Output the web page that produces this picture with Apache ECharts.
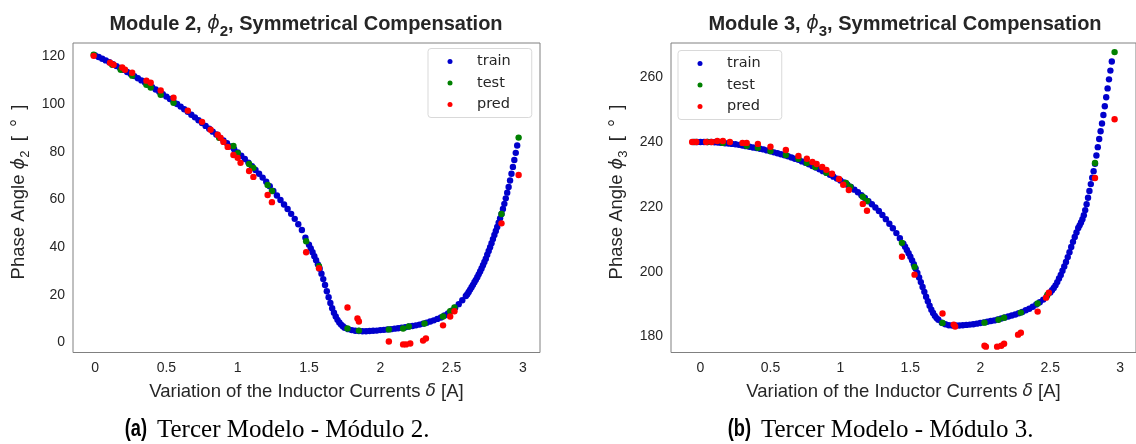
<!DOCTYPE html>
<html><head><meta charset="utf-8">
<script src="https://cdn.jsdelivr.net/npm/echarts@6/dist/echarts.min.js"></script>
<style>html,body{margin:0;padding:0;background:#fff}#c{width:1136px;height:444px}</style>
</head><body><div id="c"></div>
<script>
// ---------- tick labels ----------
const xTicks = [0, 0.5, 1, 1.5, 2, 2.5, 3];
const leftYTicks = [0, 20, 40, 60, 80, 100, 120];
const rightYTicks = [180, 200, 220, 240, 260];
const legendNames = ['train', 'test', 'pred'];

// ---------- Module 2 (left) ----------
const m2TrainX = [0,0.025,0.05,0.075,0.1,0.125,0.15,0.175,0.2,0.225,0.25,0.275,0.3,0.325,0.35,0.375,0.4,0.425,0.45,0.475,0.5,0.525,0.55,0.575,0.6,0.625,0.65,0.675,0.7,0.725,0.75,0.775,0.8,0.825,0.85,0.875,0.9,0.925,0.95,0.975,1,1.025,1.05,1.075,1.1,1.125,1.15,1.175,1.2,1.225,1.25,1.275,1.3,1.325,1.35,1.375,1.4,1.425,1.45,1.475,
1.5,1.5125,1.525,1.5375,1.55,1.5625,1.575,1.5875,1.6,1.6125,1.625,1.6375,1.65,1.6625,1.675,1.6875,1.7,1.7125,1.725,1.7375,1.75,
1.775,1.8,1.825,1.85,1.875,1.9,1.925,1.95,1.975,2,2.025,2.05,2.075,2.1,2.125,2.15,2.175,2.2,2.225,2.25,2.275,2.3,2.325,2.35,2.375,2.4,2.425,2.45,2.475,2.5,2.525,2.55,2.575,2.6,
2.61,2.62,2.63,2.64,2.65,2.66,2.67,2.68,2.69,2.7,2.71,2.72,2.73,2.74,2.75,2.76,2.77,2.78,2.79,2.8,2.81,2.82,2.83,2.84,2.85,2.86,2.87,2.88,2.89,2.9,2.91,2.92,2.93,2.94,2.95,2.96];
const m2TrainY = [120.5,119.8,119.1,118.4,117.6,116.8,116.0,115.2,114.4,113.5,112.7,111.8,110.9,110.0,109.1,108.2,107.2,106.2,105.2,104.2,103.2,102.2,101.1,100.1,99.0,97.9,96.8,95.6,94.5,93.3,92.1,90.9,89.7,88.5,87.3,86.0,84.8,83.6,82.3,81.1,79.8,78.4,77.0,75.5,74.0,72.4,70.8,69.2,67.5,65.6,63.6,61.7,59.8,57.9,56.0,54.0,51.9,49.6,47.2,44.0,
41.0,39.5,37.9,36.2,34.5,32.8,31.0,28.9,26.6,24.1,21.5,19.0,16.6,14.4,12.5,10.9,9.5,8.4,7.5,6.8,6.2,
5.6,5.2,4.9,4.8,4.7,4.7,4.8,4.9,5.0,5.2,5.3,5.5,5.6,5.8,6.0,6.2,6.4,6.7,6.9,7.2,7.5,7.9,8.3,8.8,9.3,9.9,10.5,11.3,12.2,13.3,14.6,16.1,17.7,19.5,
20.3,21.2,22.2,23.2,24.2,25.3,26.3,27.4,28.6,29.8,31.1,32.4,33.8,35.2,36.8,38.4,40.0,41.7,43.4,45.1,46.8,48.5,50.3,52.1,53.9,56.0,58.2,60.5,62.9,65.3,68.0,70.8,73.7,76.6,79.6,82.7];
const m2TestX = [-0.01,0.12,0.18,0.26,0.36,0.39,0.46,0.55,0.87,0.97,1.0,1.08,1.11,1.21,1.24,1.48,1.57,1.77,1.85,2.06,2.16,2.2,2.31,2.44,2.49,2.52,2.85,2.97];
const m2TestY = [120.8,116.6,114.5,112.0,108.2,107.0,104.0,100.6,85.9,82.5,79.5,74.9,73.3,66.1,63.6,42.5,32.0,5.9,5.0,5.5,5.9,6.7,8.0,10.9,13.1,14.7,53.9,86.0];
const m2PredX = [-0.01,0.105,0.13,0.19,0.21,0.26,0.36,0.39,0.46,0.55,0.65,0.75,0.81,0.86,0.88,0.90,0.93,0.97,1.0,1.02,1.08,1.11,1.21,1.24,1.48,1.57,1.77,1.84,1.85,2.06,2.16,2.18,2.21,2.30,2.32,2.44,2.49,2.52,2.85,2.97];
const m2PredY = [120.3,117.4,116.6,115.4,114.5,113.2,109.9,109.0,105.8,102.7,97.3,92.6,89.3,87.2,85.9,84.2,82.1,78.7,77.5,75.4,72.0,69.5,61.9,58.9,37.9,31.2,14.7,10.1,8.8,0.4,-0.8,-0.8,-0.4,0.8,1.7,7.2,10.9,13.1,50.0,70.3];

// ---------- Module 3 (right) ----------
const m3TrainX = [-0.05,-0.025,0,0.025,0.05,0.075,0.1,0.125,0.15,0.175,0.2,0.225,0.25,0.275,0.3,0.325,0.35,0.375,0.4,0.425,0.45,0.475,0.5,0.525,0.55,0.575,0.6,0.625,0.65,0.675,0.7,0.725,0.75,0.775,0.8,0.825,0.85,0.875,0.9,0.925,0.95,0.975,1,1.025,1.05,1.075,1.1,1.125,1.15,1.175,1.2,1.225,1.25,1.275,1.3,1.325,1.35,1.375,1.4,1.425,1.45,
1.4625,1.475,1.4875,1.5,1.5125,1.525,1.5375,1.55,1.5625,1.575,1.5875,1.6,1.6125,1.625,1.6375,1.65,1.6625,1.675,1.6875,1.7,
1.725,1.75,1.775,1.8,1.825,1.85,1.875,1.9,1.925,1.95,1.975,2,2.025,2.05,2.075,2.1,2.125,2.15,2.175,2.2,2.225,2.25,2.275,2.3,2.325,2.35,2.375,2.4,2.425,2.45,2.475,
2.5,2.5125,2.525,2.5375,2.55,2.5625,2.575,2.5875,2.6,2.6125,2.625,2.6375,2.65,2.6625,2.675,2.6875,2.7,
2.71,2.72,2.73,2.74,2.75,2.76,2.77,2.78,2.79,2.8,2.81,2.82,2.83,2.84,2.85,2.86,2.87,2.88,2.89,2.9,2.91,2.92,2.93,2.94];
const m3TrainY = [240.0,240.0,240.0,240.0,240.0,240.0,239.9,239.8,239.7,239.6,239.5,239.4,239.3,239.1,238.9,238.7,238.5,238.3,238.1,237.9,237.7,237.4,237.1,236.8,236.5,236.2,235.9,235.6,235.2,234.8,234.5,234.0,233.6,233.1,232.6,232.1,231.6,231.0,230.5,229.9,229.3,228.7,228.1,227.5,226.8,226.1,225.3,224.5,223.6,222.7,221.7,220.8,219.8,218.7,217.5,216.2,214.8,213.4,211.9,210.3,208.6,
207.7,206.7,205.7,204.6,203.5,202.3,201.0,199.6,198.2,196.8,195.3,193.8,192.3,190.9,189.5,188.3,187.3,186.4,185.7,185.2,
184.3,183.8,183.5,183.4,183.4,183.4,183.5,183.6,183.7,183.8,184.0,184.2,184.4,184.6,184.8,185.0,185.3,185.6,185.9,186.2,186.5,186.8,187.2,187.6,188.1,188.6,189.2,189.9,190.6,191.4,192.4,
193.6,194.3,195.0,195.8,196.8,197.9,199.0,200.3,201.6,203.0,204.5,206.0,207.6,209.2,210.7,212.1,213.5,
214.3,215.2,216.2,217.4,219.0,220.8,222.8,224.9,227.0,229.0,231.0,233.3,235.8,238.4,240.9,243.3,245.7,248.3,251.0,253.8,256.5,259.3,262.0,264.8];
const m3TestX = [-0.04,0.05,0.16,0.33,0.41,0.50,0.61,0.70,0.76,0.82,0.90,1.04,1.07,1.16,1.19,1.44,1.53,1.73,2.03,2.13,2.17,2.29,2.41,2.48,2.82,2.96];
const m3TestY = [240.0,240.0,239.7,238.8,238.2,237.2,236.0,234.8,233.5,232.3,230.5,227.4,226.2,223.1,221.8,208.9,201.5,184.2,184.3,185.2,185.8,187.4,190.2,192.9,233.5,267.7];
const m3PredX = [-0.06,-0.03,0.04,0.08,0.12,0.16,0.21,0.30,0.33,0.41,0.50,0.61,0.70,0.76,0.80,0.83,0.87,0.90,0.94,0.99,1.02,1.06,1.16,1.19,1.44,1.53,1.73,1.81,1.82,2.03,2.04,2.12,2.15,2.17,2.27,2.29,2.41,2.47,2.49,2.82,2.96];
const m3PredY = [240.0,240.0,240.0,240.0,240.3,240.3,240.0,239.7,239.7,239.4,238.5,237.5,235.7,234.8,233.8,233.2,232.3,231.4,230.2,228.6,226.8,225.2,220.9,218.8,204.6,199.1,187.1,183.7,183.1,177.2,176.9,176.9,177.2,177.8,180.6,181.2,187.7,192.0,193.5,228.9,247.0];

// ---------- build ----------
const zip = (xs, ys) => xs.map((x, i) => [x, ys[i]]);
const COLORS = {train: '#0000cc', test: '#008000', pred: '#ff0000'};
const TXT = '#262626';
const SANS = 'Liberation Sans, Arial, sans-serif';

function scatter(name, xs, ys, idx, z) {
  return {type: 'scatter', name, xAxisIndex: idx, yAxisIndex: idx, data: zip(xs, ys),
    symbol: 'circle', symbolSize: 6.4, itemStyle: {color: COLORS[name], opacity: 1}, z, silent: true};
}
function xAxisCfg(idx, min, max) {
  return {gridIndex: idx, type: 'value', min, max,
    axisLine: {show: false}, axisTick: {show: false}, splitLine: {show: false},
    axisLabel: {customValues: xTicks, formatter: v => String(v), margin: 9, color: TXT, fontSize: 14, fontFamily: SANS},
    name: 'Variation of the Inductor Currents {i|δ} [A]', nameLocation: 'middle', nameGap: 30,
    nameTextStyle: {color: TXT, fontSize: 18.5, fontFamily: SANS,
      rich: {i: {fontStyle: 'italic', fontFamily: 'DejaVu Sans', fontSize: 17, color: TXT}}}};
}
function yAxisCfg(idx, min, max, ticks) {
  return {gridIndex: idx, type: 'value', min, max,
    axisLine: {show: false}, axisTick: {show: false}, splitLine: {show: false},
    axisLabel: {customValues: ticks, margin: 8, color: TXT, fontSize: 14, fontFamily: SANS}};
}
function legendCfg(left, top) {
  return {left, top, orient: 'vertical', data: legendNames, icon: 'circle', itemWidth: 5, itemHeight: 5,
    itemGap: 5.5, padding: [5, 21, 5, 19.5], backgroundColor: '#fff', borderColor: '#d9d9d9', borderWidth: 1,
    borderRadius: 3, selectedMode: false,
    formatter: n => '{t|' + n + '}',
    textStyle: {fontFamily: 'DejaVu Sans', fontSize: 14.5, color: TXT, lineHeight: 16,
      rich: {t: {fontFamily: 'DejaVu Sans', fontSize: 14.5, color: TXT, lineHeight: 16, padding: [0, 0, 0, 19.5]}}}};
}
function titleText(x, mod) {
  return {type: 'text', x, y: 24, z: 100, style: {
    text: '{b|Module ' + mod + ', }{p|ϕ}{s|' + mod + '}{b|, Symmetrical Compensation}',
    align: 'center', verticalAlign: 'middle', textAlign: 'center', textVerticalAlign: 'middle',
    rich: {
      b: {fontFamily: SANS, fontWeight: 'bold', fontSize: 20, lineHeight: 30, fill: TXT},
      p: {fontFamily: 'DejaVu Sans', fontStyle: 'italic', fontSize: 19, lineHeight: 30, fill: TXT},
      s: {fontFamily: SANS, fontWeight: 'bold', fontSize: 15, lineHeight: 15, padding: [16, 0, 0, 0], fill: TXT}
    }}};
}
function yTitle(x, mod) {
  return {type: 'text', x, y: 192, rotation: Math.PI / 2, z: 100, style: {
    text: '{n|Phase Angle }{p|ϕ}{s|' + mod + '}{n|\u2002[\u2002}{d|°}{n|\u2002]}',
    align: 'center', verticalAlign: 'middle', textAlign: 'center', textVerticalAlign: 'middle',
    rich: {
      n: {fontFamily: SANS, fontSize: 18.5, lineHeight: 24, fill: TXT},
      d: {fontFamily: SANS, fontSize: 20, lineHeight: 24, fill: TXT},
      p: {fontFamily: 'DejaVu Sans', fontStyle: 'italic', fontSize: 17.5, lineHeight: 24, fill: TXT},
      s: {fontFamily: SANS, fontSize: 13, lineHeight: 13, padding: [12, 0, 0, 0], fill: TXT}
    }}};
}
function caption(xr, tag, text) {
  return [
    {type: 'text', x: xr, y: 429, scaleX: 0.76, style: {text: tag, font: 'bold 24px "Liberation Sans", sans-serif',
      fill: '#000', align: 'right', verticalAlign: 'middle', textAlign: 'right', textVerticalAlign: 'middle'}},
    {type: 'text', x: xr + 10, y: 430, style: {text, font: '25px "Liberation Serif", "Times New Roman", serif',
      fill: '#000', align: 'left', verticalAlign: 'middle', textAlign: 'left', textVerticalAlign: 'middle'}}
  ];
}

const chart = echarts.init(document.getElementById('c'), null, {renderer: 'canvas'});
chart.setOption({
  animation: false,
  backgroundColor: '#fff',
  grid: [
    {left: 73, top: 43, width: 467, height: 309.5, show: true, borderColor: '#808080', borderWidth: 1, backgroundColor: 'transparent'},
    {left: 671, top: 43, width: 468, height: 309.5, show: true, borderColor: '#808080', borderWidth: 1, backgroundColor: 'transparent'}
  ],
  xAxis: [xAxisCfg(0, -0.155, 3.12), xAxisCfg(1, -0.211, 3.113)],
  yAxis: [yAxisCfg(0, -4.2, 125.7, leftYTicks), yAxisCfg(1, 175.1, 270.5, rightYTicks)],
  legend: [legendCfg(428, 48.5), legendCfg(678, 50.5)],
  series: [
    scatter('train', m2TrainX, m2TrainY, 0, 2),
    scatter('test', m2TestX, m2TestY, 0, 3),
    scatter('pred', m2PredX, m2PredY, 0, 4),
    scatter('train', m3TrainX, m3TrainY, 1, 2),
    scatter('test', m3TestX, m3TestY, 1, 3),
    scatter('pred', m3PredX, m3PredY, 1, 4)
  ],
  graphic: [
    titleText(306, '2'), titleText(905, '3'),
    yTitle(19, '2'), yTitle(617, '3'),
    ...caption(147, '(a)', 'Tercer Modelo - Módulo 2.'),
    ...caption(751, '(b)', 'Tercer Modelo - Módulo 3.')
  ]
});
</script></body></html>
